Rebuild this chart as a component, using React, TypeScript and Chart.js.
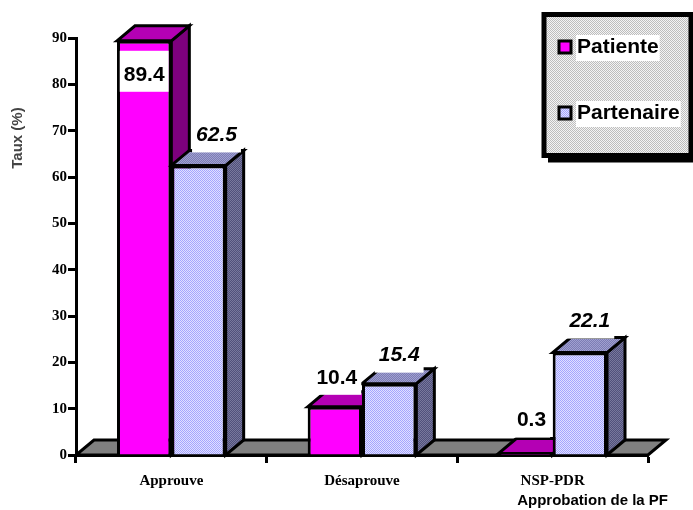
import { useEffect, useRef } from "react";
import { Chart, registerables } from "chart.js";

Chart.register(...registerables);

const categories = ["Approuve", "Désaprouve", "NSP-PDR"];
const patienteValues = [89.4, 10.4, 0.3];
const partenaireValues = [62.5, 15.4, 22.1];
const yTicks = [0, 10, 20, 30, 40, 50, 60, 70, 80, 90];

const DEPTH_X = 18;
const DEPTH_Y = 15;
const LINE = 3;
const SERIF = '"Liberation Serif", serif';
const SANS = '"Liberation Sans", sans-serif';

// Two-colour 2x2 dither, used for the hatched fills.
function dither(ctx: CanvasRenderingContext2D, a: string, b: string) {
  const tile = document.createElement("canvas");
  tile.width = 2;
  tile.height = 2;
  const t = tile.getContext("2d")!;
  t.fillStyle = a;
  t.fillRect(0, 0, 2, 2);
  t.fillStyle = b;
  t.fillRect(0, 0, 1, 1);
  t.fillRect(1, 1, 1, 1);
  return ctx.createPattern(tile, "repeat")!;
}

function poly(ctx: CanvasRenderingContext2D, pts: number[][], fill: any) {
  ctx.beginPath();
  pts.forEach(([x, y], i) => (i ? ctx.lineTo(x, y) : ctx.moveTo(x, y)));
  ctx.closePath();
  ctx.fillStyle = fill;
  ctx.fill();
  ctx.lineWidth = LINE;
  ctx.strokeStyle = "#000";
  ctx.lineJoin = "miter";
  ctx.stroke();
}

const extrusionPlugin = {
  id: "extrusion",
  beforeDatasetsDraw(chart: any) {
    const { ctx, chartArea: a } = chart;
    ctx.save();
    // floor of the 3D box
    poly(
      ctx,
      [
        [a.left, a.bottom],
        [a.right, a.bottom],
        [a.right + DEPTH_X, a.bottom - DEPTH_Y],
        [a.left + DEPTH_X, a.bottom - DEPTH_Y],
      ],
      "#808080",
    );
    const faces = [
      { top: "#b400b4", side: "#7d007d" },
      { top: dither(ctx, "#7c7cb4", "#a0a0d0"), side: dither(ctx, "#50507c", "#78789c") },
    ];
    const base = chart.scales.y.getPixelForValue(0);
    categories.forEach((_, i) => {
      chart.data.datasets.forEach((_d: any, ds: number) => {
        const bar = chart.getDatasetMeta(ds).data[i];
        const half = bar.width / 2;
        const l = bar.x - half;
        const r = bar.x + half;
        const t = bar.y;
        poly(
          ctx,
          [
            [r, t],
            [r + DEPTH_X, t - DEPTH_Y],
            [r + DEPTH_X, base - DEPTH_Y],
            [r, base],
          ],
          faces[ds].side,
        );
        poly(
          ctx,
          [
            [l, t],
            [l + DEPTH_X, t - DEPTH_Y],
            [r + DEPTH_X, t - DEPTH_Y],
            [r, t],
          ],
          faces[ds].top,
        );
      });
    });
    ctx.restore();
  },
};

// Offsets of each value label from the centre of its bar's top edge.
const labelPlacement = [
  [
    { dx: 0, dy: 34 },
    { dx: 2, dy: -29 },
    { dx: 6, dy: -33 },
  ],
  [
    { dx: 18, dy: -30 },
    { dx: 10, dy: -28 },
    { dx: 10, dy: -31 },
  ],
];

const annotationPlugin = {
  id: "annotation",
  afterDraw(chart: any) {
    const { ctx } = chart;
    ctx.save();

    // value labels on white plates
    ctx.textAlign = "center";
    ctx.textBaseline = "middle";
    chart.data.datasets.forEach((d: any, ds: number) => {
      ctx.font = `${ds ? "italic " : ""}bold 21px ${SANS}`;
      d.data.forEach((v: number, i: number) => {
        const bar = chart.getDatasetMeta(ds).data[i];
        const p = labelPlacement[ds][i];
        const x = bar.x + p.dx;
        const y = bar.y + p.dy;
        const text = v.toFixed(1);
        const w = ctx.measureText(text).width + 8;
        ctx.fillStyle = "#fff";
        ctx.fillRect(x - w / 2, y - 24, w, 41);
        ctx.fillStyle = "#000";
        ctx.fillText(text, x, y);
      });
    });

    // legend panel with a drop shadow
    const lx = 544;
    const ly = 14.5;
    const lw = 147;
    const lh = 141;
    ctx.fillStyle = "#000";
    ctx.fillRect(lx + 4, ly + 4, lw + 3, lh + 3);
    ctx.fillStyle = dither(ctx, "#f4f4f4", "#bdbdbd");
    ctx.fillRect(lx, ly, lw, lh);
    ctx.strokeStyle = "#000";
    ctx.lineWidth = 5;
    ctx.strokeRect(lx, ly, lw, lh);

    const swatches = ["#ff00ff", dither(ctx, "#e0e0ff", "#a4a4ff")];
    const rows = [47, 113];
    ctx.textAlign = "left";
    ctx.font = `bold 21px ${SANS}`;
    chart.data.datasets.forEach((d: any, ds: number) => {
      const y = rows[ds];
      const w = ctx.measureText(d.label).width;
      ctx.fillStyle = "#fff";
      ctx.fillRect(576, y - 12, w + 2, 26);
      ctx.fillStyle = swatches[ds];
      ctx.fillRect(559, y - 6, 12, 12);
      ctx.strokeStyle = "#000";
      ctx.lineWidth = LINE;
      ctx.strokeRect(559, y - 6, 12, 12);
      ctx.fillStyle = "#000";
      ctx.fillText(d.label, 577, y);
    });

    // axis captions
    ctx.font = `bold 15px ${SANS}`;
    ctx.textAlign = "right";
    ctx.fillText("Approbation de la PF", 668, 501);
    ctx.translate(18, 138);
    ctx.rotate(-Math.PI / 2);
    ctx.textAlign = "center";
    ctx.filter = "blur(0.6px)";
    ctx.fillStyle = "#444";
    ctx.fillText("Taux (%)", 0, 0);
    ctx.restore();
  },
};

export default function App() {
  const ref = useRef<HTMLCanvasElement>(null);

  useEffect(() => {
    const ctx = ref.current!.getContext("2d")!;
    const chart = new Chart(ctx, {
      type: "bar",
      data: {
        labels: categories,
        datasets: [
          {
            label: "Patiente",
            data: patienteValues,
            backgroundColor: "#ff00ff",
            borderColor: "#000",
            borderWidth: LINE,
          },
          {
            label: "Partenaire",
            data: partenaireValues,
            backgroundColor: dither(ctx, "#e0e0ff", "#a4a4ff"),
            borderColor: "#000",
            borderWidth: LINE,
          },
        ],
      },
      options: {
        responsive: false,
        animation: false,
        layout: { padding: { top: 38, right: 45, left: 0, bottom: 0 } },
        plugins: { legend: { display: false }, tooltip: { enabled: false } },
        datasets: { bar: { barPercentage: 1, categoryPercentage: 0.57 } },
        scales: {
          x: {
            grid: {
              display: true,
              drawOnChartArea: false,
              drawTicks: true,
              tickLength: 8,
              tickWidth: LINE,
              tickColor: "#000",
              offset: true,
            },
            border: { color: "#000", width: LINE },
            ticks: {
              padding: 9,
              color: "#000",
              font: { family: SERIF, size: 15, weight: "bold" },
              maxRotation: 0,
            },
            afterFit(s: any) {
              s.height = 55;
            },
          },
          y: {
            min: 0,
            max: 90,
            afterBuildTicks(s: any) {
              s.ticks = yTicks.map((value) => ({ value }));
            },
            grid: {
              drawOnChartArea: false,
              tickLength: 8,
              tickWidth: LINE,
              tickColor: "#000",
            },
            border: { color: "#000", width: LINE },
            ticks: {
              padding: 1,
              color: "#000",
              font: { family: SERIF, size: 15, weight: "bold" },
            },
            afterFit(s: any) {
              s.width = 76;
            },
          },
        },
      },
      plugins: [extrusionPlugin, annotationPlugin],
    });
    return () => chart.destroy();
  }, []);

  return (
    <canvas
      ref={ref}
      width={693}
      height={510}
      style={{ position: "fixed", left: 0, top: 0, display: "block" }}
    />
  );
}
